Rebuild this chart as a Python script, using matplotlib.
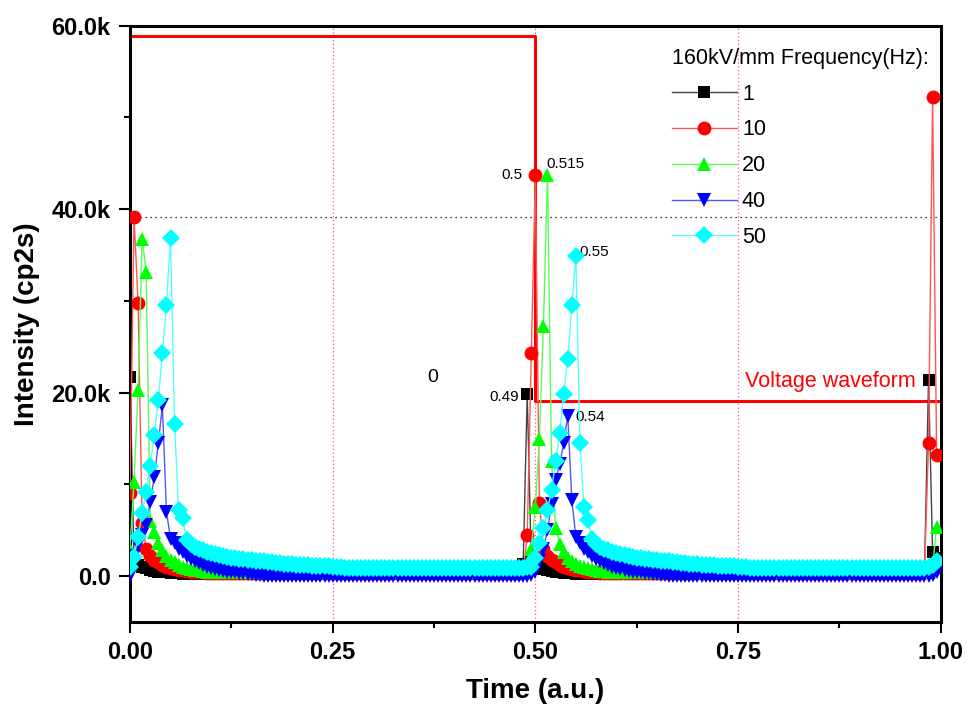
import numpy as np
import matplotlib.pyplot as plt
from matplotlib.ticker import MultipleLocator, FuncFormatter

plt.rcParams['font.family'] = ['Liberation Sans', 'DejaVu Sans']

# time grid (a.u.), step 0.005
t = np.arange(200) * 0.005

# intensity in k cp2s: start of cycle, middle (from t=0.48), end (last points)
black_start = [21.7, 1.6, 1.2, 1.0, 0.85, 0.7, 0.6, 0.5, 0.45, 0.4, 0.35, 0.32, 0.3, 0.28,
               0.26, 0.25, 0.24, 0.22, 0.21, 0.2]
black_mid = [0.3, 1.3, 19.9, 1.5, 1.4, 1.0, 0.8, 0.65, 0.55, 0.48, 0.42, 0.38, 0.34, 0.3,
             0.28, 0.26, 0.24, 0.22, 0.21, 0.2]
black_end = [0.2, 0.3, 21.4, 2.6, 2.0]

red_start = [9.1, 39.2, 29.8, 5.8, 3.0, 2.2, 1.8, 1.5, 1.25, 1.05, 0.9, 0.8, 0.7, 0.62,
             0.55, 0.5, 0.46, 0.42, 0.4, 0.38, 0.36, 0.35]
red_mid = [0.35, 0.4, 4.5, 24.3, 43.7, 8.0, 3.0, 2.2, 1.8, 1.5, 1.25, 1.05, 0.9, 0.8, 0.7,
           0.62, 0.55, 0.5, 0.45, 0.4, 0.36]
red_end = [0.35, 0.5, 14.5, 52.2, 13.2]

green_start = [3.0, 10.3, 20.3, 36.8, 33.1, 6.0, 4.8, 3.6, 2.8, 2.2, 1.8, 1.5, 1.25, 1.05,
               0.9, 0.8, 0.7, 0.62, 0.55, 0.5, 0.45, 0.42, 0.4]
green_mid = [0.4, 0.5, 1.2, 3.0, 7.5, 15.0, 27.3, 43.7, 12.5, 5.3, 3.5, 2.6, 2.0, 1.6, 1.3,
             1.1, 0.95, 0.85, 0.75, 0.65, 0.58, 0.52, 0.48, 0.45, 0.42, 0.4]
green_end = [0.4, 0.4, 0.5, 1.0, 5.4]

blue_start = [0.0, 2.2, 3.4, 4.5, 5.6, 8.1, 10.8, 14.5, 18.6, 7.0, 4.1, 3.6, 3.0, 2.6, 2.2,
              1.9, 1.6, 1.4, 1.2, 1.05, 0.9, 0.8, 0.7, 0.6, 0.5, 0.45, 0.4, 0.35, 0.3, 0.25,
              0.2, 0.15, 0.1]
blue_mid = [0.05, 0.05, 0.05, 0.1, 0.5, 1.7, 3.0, 5.0, 7.9, 10.5, 12.2, 14.5, 17.5, 8.3, 4.3,
            3.6, 3.0, 2.6, 2.2, 1.9, 1.6, 1.4, 1.2, 1.05, 0.9, 0.8, 0.7, 0.6, 0.5, 0.45, 0.4,
            0.35, 0.3, 0.25, 0.2, 0.15, 0.1]
blue_end = [0.05, 0.05, 0.05, 0.1, 0.5]

cyan_start = [1.0, 2.1, 4.3, 6.9, 9.2, 12.0, 15.4, 19.2, 24.3, 29.5, 36.9, 16.6, 7.2, 6.3,
              3.9, 3.5, 3.2, 3.0, 2.8, 2.65, 2.5, 2.4, 2.3, 2.2, 2.1, 2.0, 1.95, 1.9, 1.85,
              1.8, 1.75, 1.7, 1.65, 1.6, 1.55, 1.5, 1.45, 1.4, 1.35, 1.3, 1.28, 1.25, 1.22,
              1.2, 1.17, 1.15, 1.12, 1.1, 1.08, 1.06, 1.04, 1.02, 1.0]
cyan_mid = [0.9, 0.9, 0.95, 1.0, 2.0, 3.6, 5.2, 7.2, 9.4, 12.5, 15.6, 19.9, 23.7, 29.5, 34.9,
            14.5, 7.5, 6.1, 4.0, 3.5, 3.2, 3.0, 2.8, 2.65, 2.5, 2.4, 2.3, 2.2, 2.1, 2.0, 1.95,
            1.9, 1.85, 1.8, 1.75, 1.7, 1.65, 1.6, 1.55, 1.5, 1.45, 1.4, 1.35, 1.3, 1.28, 1.25,
            1.22, 1.2, 1.17, 1.15, 1.12, 1.1, 1.08, 1.06, 1.04, 1.02, 1.0]
cyan_end = [0.9, 0.9, 0.95, 1.2, 1.7]

baselines = [0.2, 0.35, 0.4, 0.05, 0.9]
freq_labels = ['1', '10', '20', '40', '50']

# voltage waveform (k)
volt_t = [0.0, 0.5, 0.5, 1.0]
volt_v = [58.9, 58.9, 19.1, 19.1]
ref_level = 39.2


def build(start, mid, end, base):
    v = np.full(len(t), base)
    v[:len(start)] = start
    v[96:96 + len(mid)] = mid
    v[len(t) - len(end):] = end
    return v


series = [
    build(black_start, black_mid, black_end, baselines[0]),
    build(red_start, red_mid, red_end, baselines[1]),
    build(green_start, green_mid, green_end, baselines[2]),
    build(blue_start, blue_mid, blue_end, baselines[3]),
    build(cyan_start, cyan_mid, cyan_end, baselines[4]),
]
marker_colors = ['#000000', '#ff0000', '#00ff00', '#0000ff', '#00ffff']
line_colors = ['#444444', '#ff5555', '#55ff55', '#5555ff', '#55ffff']
markers = ['s', 'o', '^', 'v', 'D']
msizes = [8, 10, 10, 10, 9]

fig = plt.figure(figsize=(9.67, 7.13), dpi=100)
ax = fig.add_axes([0.1344, 0.1276, 0.8384, 0.8364])

ax.plot(volt_t, volt_v, color='red', lw=2.2, zorder=1)
ax.axhline(ref_level, color='black', lw=0.9, linestyle=(0, (1, 3)), zorder=0)
for xv in [0.25, 0.5, 0.75]:
    ax.axvline(xv, color='#ff4fa7', lw=0.9, linestyle=(0, (1, 2)), zorder=0)

for i in range(5):
    ax.plot(t, series[i], color=line_colors[i], lw=1.0, marker=markers[i],
            ms=msizes[i], mfc=marker_colors[i], mec=marker_colors[i], mew=0,
            label=freq_labels[i], zorder=2 + i)

# peak labels
ann_size = 11
ax.annotate('0.5', xy=(t[100], series[1][100]), xytext=(-13, 0), textcoords='offset pixels',
            ha='right', va='center', fontsize=ann_size)
ax.annotate('0.515', xy=(t[103], series[2][103]), xytext=(-1, 11), textcoords='offset pixels',
            ha='left', va='center', fontsize=ann_size)
ax.annotate('0.55', xy=(t[110], series[4][110]), xytext=(4, 4), textcoords='offset pixels',
            ha='left', va='center', fontsize=ann_size)
ax.annotate('0.54', xy=(t[108], series[3][108]), xytext=(8, -1), textcoords='offset pixels',
            ha='left', va='center', fontsize=ann_size)
ax.annotate('0.49', xy=(t[98], series[0][98]), xytext=(-8, -3), textcoords='offset pixels',
            ha='right', va='center', fontsize=ann_size)
ax.text(0.374, 21.7, '0', fontsize=14, ha='center', va='center')
ax.text(0.758, 21.2, 'Voltage waveform', color='red', fontsize=15.5, ha='left', va='center')

ax.set_xlim(0, 1.0)
ax.set_ylim(-5, 60)
ax.xaxis.set_major_locator(MultipleLocator(0.25))
ax.xaxis.set_minor_locator(MultipleLocator(0.125))
ax.yaxis.set_major_locator(MultipleLocator(20))
ax.yaxis.set_minor_locator(MultipleLocator(10))
ax.xaxis.set_major_formatter(FuncFormatter(lambda v, p: f'{v:.2f}'))
ax.yaxis.set_major_formatter(FuncFormatter(lambda v, p: '0.0' if abs(v) < 1e-9 else f'{v:.1f}k'))
ax.tick_params(which='major', direction='out', length=8, width=1.5, labelsize=17, pad=6)
ax.tick_params(which='minor', direction='out', length=4, width=1.5)
ax.tick_params(top=False, right=False)
for lab in ax.get_xticklabels() + ax.get_yticklabels():
    lab.set_fontweight('bold')
for s in ax.spines.values():
    s.set_linewidth(2.2)

ax.set_xlabel('Time (a.u.)', fontsize=20, fontweight='bold', labelpad=10)
ax.set_ylabel('Intensity (cp2s)', fontsize=20, fontweight='bold', labelpad=8)

leg = ax.legend(title='160kV/mm Frequency(Hz):', title_fontsize=15.5, fontsize=15.5,
                frameon=False, loc='upper left', bbox_to_anchor=(0.6686, 0.963),
                handlelength=3.0, handletextpad=0.25, labelspacing=0.69, borderpad=0,
                borderaxespad=0, alignment='left')

fig.savefig('out.png', dpi=100)
